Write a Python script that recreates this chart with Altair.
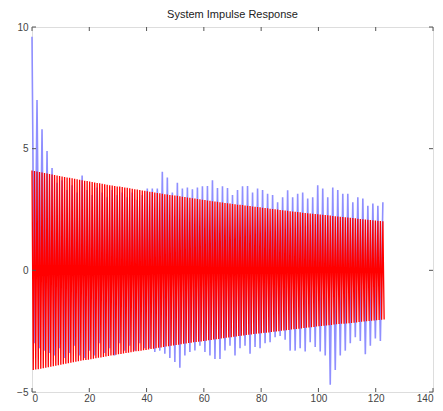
import altair as alt
import pandas as pd

# ---- data ----
sample_step = 0.875  # x distance between samples

blue_y = [
    9.6, -3.0, 7.0, -3.2, 5.8, -3.3, 4.9, -3.4, 4.2, -3.5,
    3.6, -3.2, 3.7, -3.6, 3.3, -3.4, 3.5, -3.1, 3.2, -3.5,
    3.9, -3.6, 3.3, -3.3, 3.1, -3.5, 3.4, -3.0, 3.2, -3.4,
    3.0, -3.2, 3.3, -3.5, 3.1, -3.0, 3.2, -3.3, 3.0, -3.1,
    3.2, -3.3, 2.9, -3.0, 3.1, -3.2, 3.36, -3.2, 3.36, -3.36,
    3.36, -3.3, 4.05, -3.43, 3.81, -3.6, 3.2, -3.77, 3.6, -4.0,
    3.36, -3.5, 3.4, -3.36, 3.33, -3.29, 3.4, -3.1, 3.45, -3.36,
    3.47, -3.5, 3.7, -3.64, 3.38, -3.64, 3.45, -3.29, 3.38, -3.1,
    3.1, -3.5, 3.3, -3.2, 3.45, -3.1, 3.47, -3.43, 3.2, -3.15,
    3.36, -3.2, 3.3, -3.0, 3.15, -2.95, 3.1, -2.75, 2.8, -2.7,
    3.0, -2.85, 3.29, -3.3, 3.0, -3.3, 3.15, -3.2, 3.2, -3.34,
    2.95, -2.95, 3.0, -3.15, 3.5, -3.34, 3.36, -3.5, 3.0, -4.7,
    3.4, -4.1, 3.3, -3.5, 3.15, -3.3, 3.15, -3.0, 2.8, -2.75,
    3.0, -2.9, 2.95, -3.45, 2.65, -3.1, 2.75, -2.8, 2.65, -2.9,
    2.8,
]

# red: envelope of the fast oscillation at each sample (swings +amp / -amp)
red_amp = [
    4.10, 4.08, 4.06, 4.04, 4.02, 4.00, 3.98, 3.96, 3.94, 3.92,
    3.90, 3.88, 3.86, 3.84, 3.82, 3.80, 3.78, 3.76, 3.74, 3.72,
    3.70, 3.68, 3.67, 3.65, 3.63, 3.61, 3.59, 3.58, 3.56, 3.54,
    3.52, 3.50, 3.49, 3.47, 3.45, 3.44, 3.42, 3.40, 3.39, 3.37,
    3.35, 3.33, 3.32, 3.30, 3.28, 3.27, 3.25, 3.23, 3.22, 3.20,
    3.18, 3.17, 3.15, 3.13, 3.12, 3.10, 3.09, 3.07, 3.06, 3.04,
    3.02, 3.01, 2.99, 2.98, 2.96, 2.95, 2.93, 2.92, 2.90, 2.89,
    2.87, 2.86, 2.84, 2.83, 2.82, 2.80, 2.79, 2.77, 2.76, 2.75,
    2.73, 2.72, 2.70, 2.69, 2.68, 2.66, 2.65, 2.64, 2.62, 2.61,
    2.60, 2.59, 2.57, 2.56, 2.55, 2.53, 2.52, 2.51, 2.50, 2.48,
    2.47, 2.46, 2.45, 2.43, 2.42, 2.41, 2.40, 2.39, 2.37, 2.36,
    2.35, 2.34, 2.33, 2.31, 2.30, 2.29, 2.28, 2.27, 2.26, 2.25,
    2.23, 2.22, 2.21, 2.20, 2.19, 2.18, 2.17, 2.16, 2.15, 2.14,
    2.12, 2.11, 2.10, 2.09, 2.08, 2.07, 2.06, 2.05, 2.04, 2.03,
    2.02,
]

x_ticks = [0, 20, 40, 60, 80, 100, 120, 140]
y_ticks = [-5, 0, 5, 10]
title_text = "System Impulse Response"

# ---- tables ----
blue_df = pd.DataFrame({
    "x": [i * sample_step for i in range(len(blue_y))],
    "y": blue_y,
    "i": list(range(len(blue_y))),
})
red_rows = []
for i, a in enumerate(red_amp):
    red_rows.append({"x": i * sample_step, "y": a, "i": 2 * i})
    red_rows.append({"x": (i + 0.5) * sample_step, "y": -a, "i": 2 * i + 1})
red_df = pd.DataFrame(red_rows)
xt_df = pd.DataFrame({"x": x_ticks})
yt_df = pd.DataFrame({"y": y_ticks})

W, H = 401, 365
xs = alt.Scale(domain=[0, 140], nice=False, zero=False)
ys = alt.Scale(domain=[-5, 10], nice=False, zero=False)

xaxis = alt.Axis(values=x_ticks, ticks=False, domain=False, grid=False,
                 labelFontSize=10, labelColor="#444", labelPadding=1,
                 labelFont="Liberation Sans", title=None)
yaxis = alt.Axis(values=y_ticks, ticks=False, domain=False, grid=False,
                 labelFontSize=10, labelColor="#444", labelPadding=4,
                 labelFont="Liberation Sans", title=None)

blue = alt.Chart(blue_df).mark_line(color="#8f8fff", strokeWidth=1.6).encode(
    x=alt.X("x:Q", scale=xs, axis=xaxis),
    y=alt.Y("y:Q", scale=ys, axis=yaxis),
    order="i:Q",
)
red = alt.Chart(red_df).mark_line(color="#ff0000", strokeWidth=1.3).encode(
    x=alt.X("x:Q", scale=xs),
    y=alt.Y("y:Q", scale=ys),
    order="i:Q",
)

tick_color = "#555"
xt_bottom = alt.Chart(xt_df).mark_rule(color=tick_color).encode(
    x=alt.X("x:Q", scale=xs), y=alt.value(H), y2=alt.value(H - 4))
xt_top = alt.Chart(xt_df).mark_rule(color=tick_color).encode(
    x=alt.X("x:Q", scale=xs), y=alt.value(0), y2=alt.value(4))
yt_left = alt.Chart(yt_df).mark_rule(color=tick_color).encode(
    y=alt.Y("y:Q", scale=ys), x=alt.value(0), x2=alt.value(4))
yt_right = alt.Chart(yt_df).mark_rule(color=tick_color).encode(
    y=alt.Y("y:Q", scale=ys), x=alt.value(W), x2=alt.value(W - 4))

chart = alt.layer(blue, red, xt_bottom, xt_top, yt_left, yt_right).properties(
    width=W, height=H,
    title=alt.TitleParams(title_text, fontSize=11, font="Liberation Sans",
                          fontWeight="normal", color="#222", offset=2,
                          anchor="middle"),
    autosize=alt.AutoSizeParams(type="none"),
    padding={"left": 24, "top": 19, "right": 2, "bottom": 11},
).configure_view(stroke="#555", strokeWidth=1.2).configure(background="white")

chart.save("out.html", embed_options={"renderer": "svg", "actions": False})
